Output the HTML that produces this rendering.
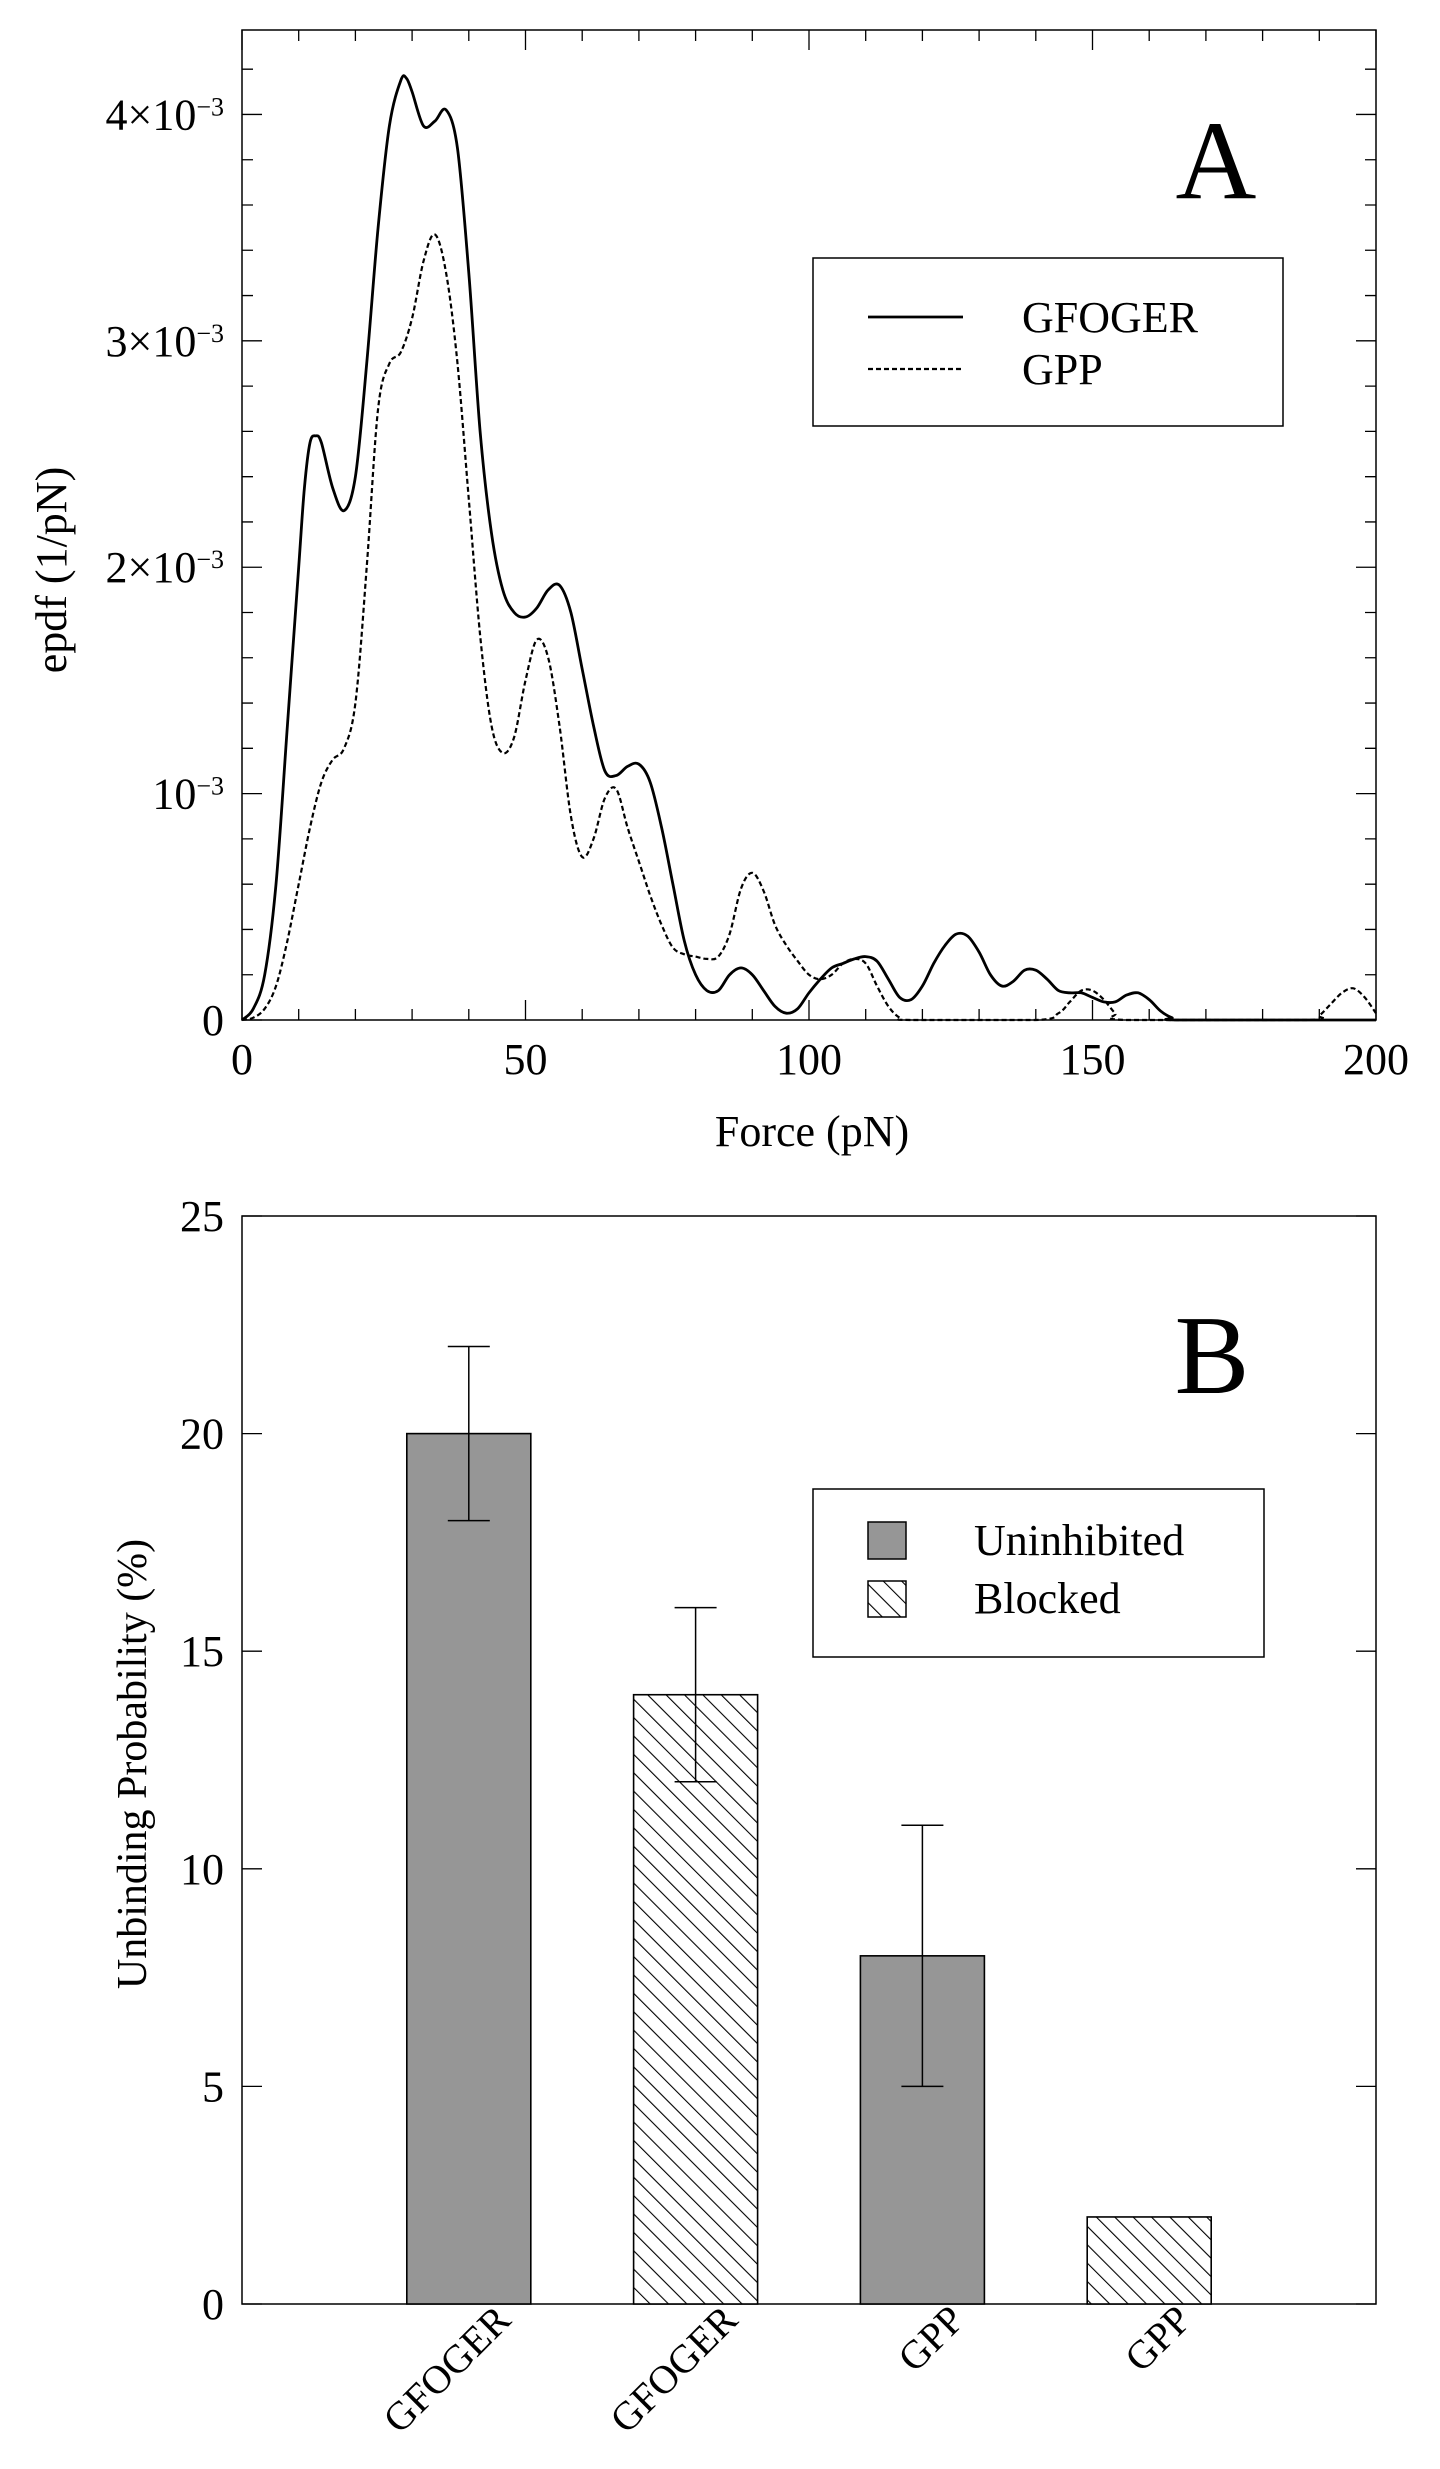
<!DOCTYPE html>
<html><head><meta charset="utf-8"><style>
html,body{margin:0;padding:0;background:#fff;}
svg{display:block;font-family:"Liberation Serif",serif;}
</style></head><body>
<svg id="fig" width="1440" height="2469" viewBox="0 0 1440 2469">
<defs>
<pattern id="hatch" patternUnits="userSpaceOnUse" width="13" height="13" patternTransform="rotate(-45)">
<rect width="13" height="13" fill="#fff"/><line x1="0" y1="0" x2="0" y2="13" stroke="#000" stroke-width="2.2"/>
</pattern>
</defs>
<g id="panelA"></g>
<g id="panelB"></g>
</svg>
<script>
const forceGF=[0,2,4,6,8,10,11,12,13,14,16,18,20,22,24,26,28,29,30,32,34,36,38,40,42,44,46,48,50,52,54,56,58,60,62,64,66,68,70,72,74,76,78,80,82,84,86,88,90,92,94,96,98,100,102,104,106,108,110,112,114,116,118,120,122,124,126,128,130,132,134,136,138,140,142,144,146,148,150,152,154,156,158,160,162,164,166,200];
const epdfGF=[0,0.05,0.2,0.6,1.3,2.0,2.35,2.55,2.58,2.55,2.35,2.25,2.4,2.9,3.5,3.95,4.15,4.16,4.1,3.95,3.97,4.02,3.85,3.3,2.6,2.15,1.9,1.8,1.78,1.82,1.9,1.92,1.8,1.55,1.3,1.1,1.08,1.12,1.13,1.05,0.85,0.6,0.35,0.2,0.13,0.13,0.2,0.23,0.2,0.13,0.06,0.03,0.05,0.12,0.18,0.23,0.25,0.27,0.28,0.26,0.18,0.1,0.09,0.15,0.25,0.33,0.38,0.37,0.3,0.2,0.15,0.17,0.22,0.22,0.18,0.13,0.12,0.12,0.1,0.08,0.08,0.11,0.12,0.09,0.04,0.01,0,0];
const forceGPP=[0,2,4,6,8,10,12,14,16,18,20,22,24,26,28,30,32,34,36,38,40,42,44,46,48,50,52,54,56,58,60,62,64,66,68,70,72,74,76,78,80,82,84,86,88,90,92,94,96,98,100,102,104,106,108,110,112,114,116,118,140,144,146,148,150,152,154,156,188,190,192,194,196,198,200];
const epdfGPP=[0,0.01,0.05,0.15,0.35,0.6,0.85,1.05,1.15,1.2,1.4,2.0,2.7,2.9,2.95,3.1,3.35,3.47,3.3,2.9,2.3,1.7,1.3,1.18,1.25,1.5,1.68,1.6,1.3,0.9,0.72,0.8,0.98,1.02,0.85,0.7,0.55,0.42,0.32,0.29,0.28,0.27,0.28,0.38,0.58,0.65,0.57,0.42,0.33,0.26,0.2,0.18,0.2,0.25,0.27,0.25,0.15,0.06,0.01,0,0,0.03,0.08,0.13,0.13,0.09,0.03,0,0,0.02,0.07,0.12,0.14,0.1,0.03];
const xTicksA=[0,50,100,150,200];
const yTicksA=[0,1,2,3,4];
const yTickLabelsA=["0","10<tspan dy='-14' font-size='26'>−3</tspan>","2×10<tspan dy='-14' font-size='26'>−3</tspan>","3×10<tspan dy='-14' font-size='26'>−3</tspan>","4×10<tspan dy='-14' font-size='26'>−3</tspan>"];
const categoriesB=["GFOGER","GFOGER","GPP","GPP"];
const valuesB=[20,14,8,2];
const errorsB=[2,2,3,0];
const kindsB=["Uninhibited","Blocked","Uninhibited","Blocked"];
const yTicksB=[0,5,10,15,20,25];

const NS="http://www.w3.org/2000/svg";
function mk(parent,tag,attrs,text){const e=document.createElementNS(NS,tag);for(const k in attrs)e.setAttribute(k,attrs[k]);if(text!==undefined)e.innerHTML=text;parent.appendChild(e);return e;}

// Panel A
const A=document.getElementById('panelA');
const aL=242,aR=1376,aT=30,aB=1020;
const ax=v=>aL+(v/200)*(aR-aL);
const ay=v=>aB-(v/4.373)*(aB-aT);
let e;
e=mk(A,'rect',{x:aL,y:aT,width:aR-aL,height:aB-aT,fill:'none',stroke:'#000','stroke-width':1.5});


for(let v=0;v<=200;v+=10){const major=v%50===0;const len=major?20:11;
 e=mk(A,'path',{d:`M${ax(v)},${aB}v${-len}M${ax(v)},${aT}v${len}`,stroke:'#000','stroke-width':1.3});
 
 }
for(let i=0;i<=21;i++){const v=i*0.2;const major=i%5===0;const len=major?20:11;
 e=mk(A,'path',{d:`M${aL},${ay(v)}h${len}M${aR},${ay(v)}h${-len}`,stroke:'#000','stroke-width':1.3});
 
 }
xTicksA.forEach(v=>{e=mk(A,'text',{x:ax(v),y:1074,'font-size':44,'text-anchor':'middle'},String(v));
 
 });
yTicksA.forEach((v,i)=>{e=mk(A,'text',{x:224,y:ay(v)+15,'font-size':44,'text-anchor':'end'},yTickLabelsA[i]);
 
 });
e=mk(A,'text',{x:812,y:1146,'font-size':44,'text-anchor':'middle'},'Force (pN)');


e=mk(A,'text',{x:0,y:0,'font-size':44,'text-anchor':'middle',transform:'translate(66,570) rotate(-90)'},'epdf (1/pN)');


e=mk(A,'text',{x:1216,y:198,'font-size':112,'text-anchor':'middle'},'A');


function smooth(xs,ys){
 const p=xs.map((x,i)=>[ax(x),ay(ys[i])]);
 let d='M'+p[0][0].toFixed(1)+','+p[0][1].toFixed(1);
 for(let i=0;i<p.length-1;i++){
  const p0=p[Math.max(0,i-1)],p1=p[i],p2=p[i+1],p3=p[Math.min(p.length-1,i+2)];
  const c1=[p1[0]+(p2[0]-p0[0])/6,p1[1]+(p2[1]-p0[1])/6];
  const c2=[p2[0]-(p3[0]-p1[0])/6,p2[1]-(p3[1]-p1[1])/6];
  const cl=y=>Math.min(aB,y);
  d+='C'+c1[0].toFixed(1)+','+cl(c1[1]).toFixed(1)+' '+c2[0].toFixed(1)+','+cl(c2[1]).toFixed(1)+' '+p2[0].toFixed(1)+','+p2[1].toFixed(1);
 }
 return d;}
e=mk(A,'path',{d:smooth(forceGF,epdfGF),fill:'none',stroke:'#000','stroke-width':2.8,'stroke-linejoin':'round'});


e=mk(A,'path',{d:smooth(forceGPP,epdfGPP),fill:'none',stroke:'#000','stroke-width':2.2,'stroke-dasharray':'5,3'});


e=mk(A,'rect',{x:813,y:258,width:470,height:168,fill:'#fff',stroke:'#000','stroke-width':1.5});


e=mk(A,'line',{x1:868,y1:317,x2:963,y2:317,stroke:'#000','stroke-width':2.8});


e=mk(A,'line',{x1:868,y1:369,x2:963,y2:369,stroke:'#000','stroke-width':2.2,'stroke-dasharray':'5,3'});


e=mk(A,'text',{x:1022,y:332,'font-size':44},'GFOGER');


e=mk(A,'text',{x:1022,y:384,'font-size':44},'GPP');



// Panel B
const B=document.getElementById('panelB');
const bL=242,bR=1376,bT=1216,bB=2304;
const bx=c=>bL+(c/5)*(bR-bL);
const by=v=>bB-(v/25)*(bB-bT);
const bw=124;
e=mk(B,'rect',{x:bL,y:bT,width:bR-bL,height:bB-bT,fill:'none',stroke:'#000','stroke-width':1.5});


yTicksB.forEach(v=>{
 e=mk(B,'path',{d:`M${bL},${by(v)}h20M${bR},${by(v)}h-20`,stroke:'#000','stroke-width':1.3});
 
 
 e=mk(B,'text',{x:224,y:by(v)+15,'font-size':44,'text-anchor':'end'},String(v));
 
 });
valuesB.forEach((v,i)=>{const cx=bx(i+1);
 e=mk(B,'rect',{x:cx-bw/2,y:by(v),width:bw,height:bB-by(v),fill:kindsB[i]==='Blocked'?'url(#hatch)':'#969696',stroke:'#000','stroke-width':1.6});
 
 
 if(errorsB[i]>0){
  e=mk(B,'path',{d:`M${cx},${by(v+errorsB[i])}V${by(v-errorsB[i])}M${cx-21},${by(v+errorsB[i])}h42M${cx-21},${by(v-errorsB[i])}h42`,stroke:'#000','stroke-width':1.5,fill:'none'});
  
  }
 e=mk(B,'text',{x:0,y:0,'font-size':40,'text-anchor':'end',transform:`translate(${cx+44},2322) rotate(-45)`},categoriesB[i]);
 
 });
e=mk(B,'text',{x:0,y:0,'font-size':42,'text-anchor':'middle',transform:'translate(146,1764) rotate(-90)'},'Unbinding Probability (%)');


e=mk(B,'text',{x:1212,y:1393,'font-size':112,'text-anchor':'middle'},'B');


e=mk(B,'rect',{x:813,y:1489,width:451,height:168,fill:'#fff',stroke:'#000','stroke-width':1.5});


e=mk(B,'rect',{x:868,y:1522,width:38,height:37,fill:'#969696',stroke:'#000','stroke-width':1.5});


e=mk(B,'rect',{x:868,y:1581,width:38,height:36,fill:'url(#hatch)',stroke:'#000','stroke-width':1.5});


e=mk(B,'text',{x:974,y:1555,'font-size':44},'Uninhibited');


e=mk(B,'text',{x:974,y:1613,'font-size':44},'Blocked');


</script>
</body></html>
